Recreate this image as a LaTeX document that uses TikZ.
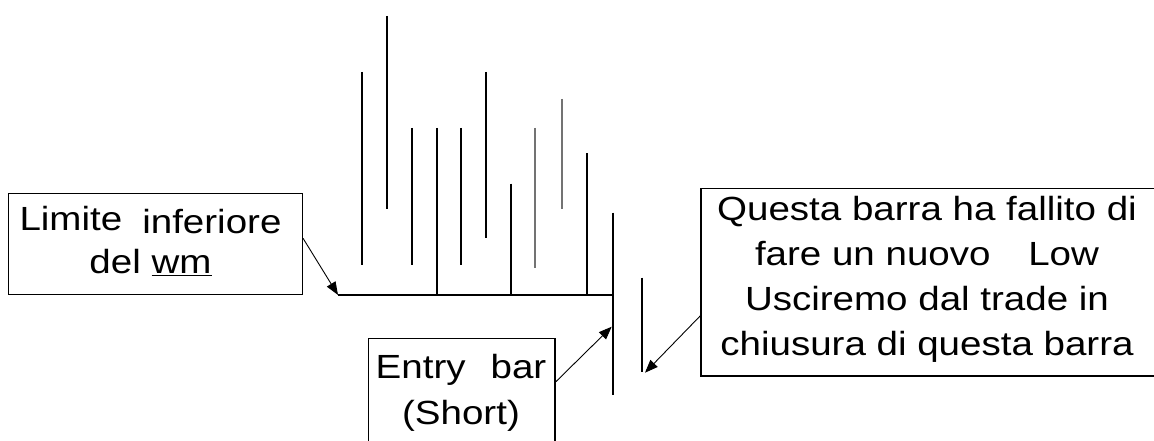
\documentclass[tikz,border=0pt]{standalone}
\usepackage{fontspec}
\setmainfont{Liberation Sans}[FakeStretch=1.15]
\usetikzlibrary{arrows.meta}
\begin{document}
\begin{tikzpicture}[x=1pt,y=-1pt,
  bar/.style={line width=1.8pt},
  lightbar/.style={line width=1.8pt, black!55},
  box/.style={draw, line width=1.5pt, inner sep=0pt},
  lbl/.style={align=center, anchor=base, inner sep=0pt},
  conn/.style={line width=0.9pt, -{Triangle[length=13pt,width=10pt]}},
  ]
\useasboundingbox (0,0) rectangle (1154,441);
\fill[white] (0,0) rectangle (1154,441);

% price bars
\foreach \x/\t/\b in {361.7/72/265, 386.7/16/209, 412/128/265, 437.3/128/295,
  460.7/128/265, 485.7/72/237.7, 511.3/183.7/295, 587.3/153.3/295}
  {\draw[bar] (\x,\t) -- (\x,\b);}
\foreach \x/\t/\b in {535/128/267.7, 562/99/209}
  {\draw[lightbar] (\x,\t) -- (\x,\b);}
% entry bar and next bar
\coordinate (entrytop) at (612.7,212.7);
\coordinate (entrybot) at (612.7,395);
\draw[bar] (entrytop) -- (entrybot);
\coordinate (nexttop) at (641.7,277.7);
\coordinate (nextbot) at (641.7,371.7);
\draw[bar] (nexttop) -- (nextbot);
% lower limit line
\coordinate (hlstart) at (338,295);
\coordinate (hlend) at (612.7,295);
\draw[bar] (hlstart) -- (hlend);

% boxes
\node[box, minimum width=294pt, minimum height=101.2pt] (lbox) at (155.3,243.9) {};
\node[box, minimum width=186.7pt, minimum height=121.7pt] (ebox) at (461.65,399.15) {};
\node[box, minimum width=459pt, minimum height=187.7pt] (rbox) at (930.5,282.15) {};

% texts (base anchor = baseline of last line)
\node[lbl, font=\fontsize{33.5}{43}\selectfont] (ltext) at (150.5,273.3)
  {Limite\hspace{20pt}\raisebox{-3pt}{inferiore}\\del \underline{wm}};
\node[lbl, font=\fontsize{33.5}{46}\selectfont] (etext) at (461,424.3)
  {Entry\hspace{25pt}bar\\(Short)};
\node[lbl, font=\fontsize{33.5}{45}\selectfont] (rtext) at (927,355)
  {Questa barra ha fallito di\\fare un nuovo\hspace{27pt} Low\\Usciremo dal trade in\\chiusura di questa barra};

% connectors
\coordinate (entrytip) at (611.7,326.7);
\coordinate (exittip) at (645,372.7);
\draw[conn] ([yshift=5.6pt]lbox.east) -- (hlstart);
\draw[conn] ([yshift=17.3pt]ebox.east) -- (entrytip);
\draw[conn] ([yshift=-33.7pt]rbox.west) -- (exittip);
\end{tikzpicture}
\end{document}
